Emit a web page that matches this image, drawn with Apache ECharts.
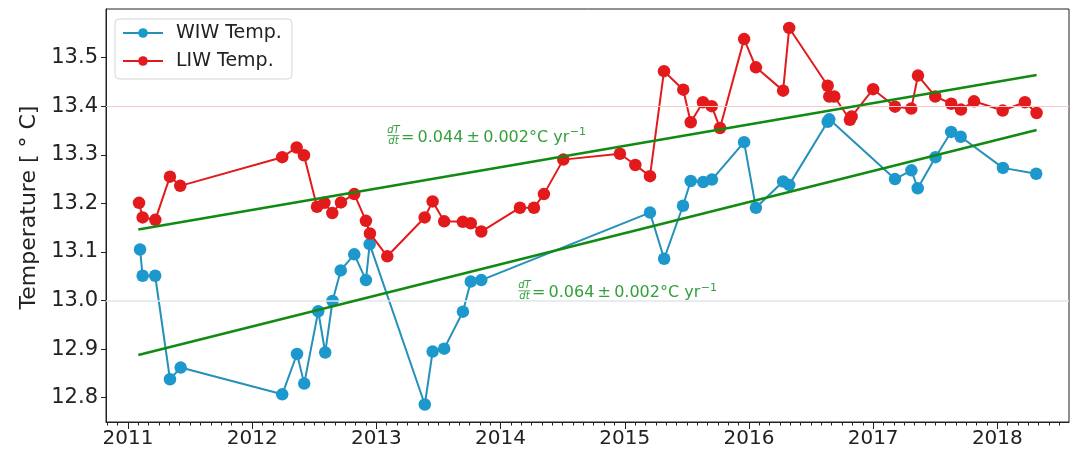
<!DOCTYPE html>
<html>
<head>
<meta charset="utf-8">
<title>WIW / LIW temperature</title>
<script src="https://cdn.jsdelivr.net/npm/echarts@6/dist/echarts.min.js"></script>
<style>
  html, body { margin: 0; padding: 0; background: #fff; }
  #chart { width: 1074px; height: 454px; }
</style>
</head>
<body>
<div id="chart"></div>
<script>
// Sampling dates (decimal years) and temperatures, Winter Intermediate Water
const wiwYears = [2011.097, 2011.118, 2011.219, 2011.338, 2011.424, 2012.242, 2012.361, 2012.419,
  2012.532, 2012.588, 2012.647, 2012.713, 2012.822, 2012.916, 2012.946, 2013.390, 2013.453,
  2013.546, 2013.697, 2013.760, 2013.845, 2015.203, 2015.317, 2015.469, 2015.531, 2015.632,
  2015.702, 2015.961, 2016.056, 2016.275, 2016.324, 2016.634, 2016.647, 2017.176, 2017.308,
  2017.359, 2017.502, 2017.628, 2017.705, 2018.045, 2018.313];
const wiwTemp = [13.105, 13.051, 13.051, 12.838, 12.862, 12.807, 12.890, 12.829,
  12.978, 12.893, 12.999, 13.062, 13.095, 13.042, 13.116, 12.786, 12.895,
  12.901, 12.977, 13.039, 13.042, 13.181, 13.086, 13.195, 13.246, 13.244,
  13.249, 13.326, 13.191, 13.245, 13.238, 13.368, 13.373, 13.250, 13.268,
  13.231, 13.295, 13.347, 13.337, 13.273, 13.261];

// Levantine Intermediate Water
const liwYears = [2011.089, 2011.118, 2011.220, 2011.338, 2011.421, 2012.242, 2012.358, 2012.417,
  2012.522, 2012.582, 2012.645, 2012.715, 2012.822, 2012.916, 2012.948, 2013.088, 2013.389,
  2013.453, 2013.546, 2013.696, 2013.760, 2013.845, 2014.156, 2014.269, 2014.349, 2014.505,
  2014.961, 2015.085, 2015.203, 2015.316, 2015.471, 2015.531, 2015.630, 2015.700, 2015.767,
  2015.961, 2016.056, 2016.275, 2016.324, 2016.634, 2016.647, 2016.687, 2016.813, 2016.827,
  2017.000, 2017.176, 2017.307, 2017.361, 2017.500, 2017.629, 2017.707, 2017.812, 2018.043,
  2018.222, 2018.316];
const liwTemp = [13.201, 13.171, 13.166, 13.255, 13.236, 13.295, 13.315, 13.299,
  13.193, 13.201, 13.180, 13.202, 13.219, 13.164, 13.138, 13.091, 13.171,
  13.204, 13.163, 13.162, 13.159, 13.142, 13.191, 13.191, 13.219, 13.290,
  13.302, 13.279, 13.256, 13.472, 13.434, 13.367, 13.408, 13.400, 13.355,
  13.538, 13.480, 13.432, 13.561, 13.442, 13.420, 13.420, 13.372, 13.379,
  13.435, 13.399, 13.395, 13.463, 13.420, 13.405, 13.393, 13.410, 13.391,
  13.408, 13.386];

// Linear trends: span, value at start, slope (degC per year) and uncertainty
const trendSpan = [2011.083, 2018.316];
const liwTrendStart = 13.146;
const liwSlope = 0.044;
const wiwTrendStart = 12.888;
const wiwSlope = 0.064;
const slopeError = 0.002;

// Reference levels
const refLevels = [13.4, 13.0];

// Tick labels
const xTickYears = [2011, 2012, 2013, 2014, 2015, 2016, 2017, 2018];
const yTickValues = [12.8, 12.9, 13.0, 13.1, 13.2, 13.3, 13.4, 13.5];

const X_MIN = 2010.823, X_MAX = 2018.577;
const Y_MIN = 12.75, Y_MAX = 13.6;

const FONT = '"DejaVu Sans", "Liberation Sans", sans-serif';
const INK = '#222';
const BLUE = '#1c98cc';
const BLUE_LINE = '#2590ba';
const RED = '#e31a1c';
const GREEN = '#118a11';
const GREEN_TEXT = '#34a03c';

// monthly minor ticks
const monthTicks = [];
for (let k = Math.ceil(X_MIN * 12); k <= Math.floor(X_MAX * 12); k++) {
  monthTicks.push(k / 12);
}

const zip = (xs, ys) => xs.map((x, i) => [x, ys[i]]);
const trendLine = (start, slope) =>
  trendSpan.map(x => [x, start + slope * (x - trendSpan[0])]);

const chart = echarts.init(document.getElementById('chart'), null, { renderer: 'canvas' });

const option = {
  animation: false,
  grid: {
    left: 106, right: 5, top: 9, bottom: 32,
    show: true, borderColor: INK, borderWidth: 1, backgroundColor: 'transparent'
  },
  legend: {
    data: ['WIW Temp.', 'LIW Temp.'],
    orient: 'vertical',
    left: 115, top: 19,
    itemWidth: 40, itemHeight: 12, itemGap: 8,
    padding: [4, 10, 8, 7],
    borderColor: '#d6d6d6', borderWidth: 1, borderRadius: 4,
    backgroundColor: 'rgba(255,255,255,0.85)',
    textStyle: { fontFamily: FONT, fontSize: 19, lineHeight: 20, color: INK, padding: [0, 0, 0, 8] }
  },
  xAxis: [
    {
      type: 'value', min: X_MIN, max: X_MAX,
      axisLine: { show: true, lineStyle: { color: INK, width: 1 } },
      axisTick: { show: true, customValues: xTickYears, length: 7, lineStyle: { color: INK } },
      axisLabel: {
        customValues: xTickYears, fontFamily: FONT, fontSize: 20, color: INK, margin: 7,
        formatter: v => String(Math.round(v))
      },
      splitLine: { show: false }
    },
    {
      type: 'value', min: X_MIN, max: X_MAX, position: 'bottom',
      axisLine: { show: false },
      axisTick: { show: true, customValues: monthTicks, length: 3.5, lineStyle: { color: INK } },
      axisLabel: { show: false },
      splitLine: { show: false }
    }
  ],
  yAxis: {
    type: 'value', min: Y_MIN, max: Y_MAX,
    name: 'Temperature [ ° C]',
    nameLocation: 'middle', nameGap: 65,
    nameTextStyle: { fontFamily: FONT, fontSize: 22, color: INK, padding: [0, 0, 0, 16] },
    axisLine: { show: true, lineStyle: { color: INK, width: 1 } },
    axisTick: { show: true, customValues: yTickValues, length: 5, lineStyle: { color: INK } },
    axisLabel: {
      customValues: yTickValues, fontFamily: FONT, fontSize: 21, color: INK, margin: 8,
      formatter: v => v.toFixed(1)
    },
    splitLine: { show: false }
  },
  series: [
    {
      name: 'reference', type: 'line', data: [], z: 1, silent: true,
      markLine: {
        silent: true, symbol: 'none', label: { show: false },
        data: [
          { yAxis: refLevels[0], lineStyle: { color: '#f6c9c9', width: 1, type: 'solid' } },
          { yAxis: refLevels[1], lineStyle: { color: '#dfe6ec', width: 1.5, type: 'solid' } }
        ]
      }
    },
    {
      name: 'WIW Temp.', type: 'line', data: zip(wiwYears, wiwTemp), z: 3,
      symbol: 'circle', symbolSize: 12.5, showAllSymbol: true,
      itemStyle: { color: BLUE },
      lineStyle: { color: BLUE_LINE, width: 2 }
    },
    {
      name: 'LIW Temp.', type: 'line', data: zip(liwYears, liwTemp), z: 4,
      symbol: 'circle', symbolSize: 12.5, showAllSymbol: true,
      itemStyle: { color: RED },
      lineStyle: { color: RED, width: 2 }
    },
    {
      name: 'LIW trend', type: 'line', data: trendLine(liwTrendStart, liwSlope), z: 5,
      symbol: 'none', silent: true, lineStyle: { color: GREEN, width: 2.5 }
    },
    {
      name: 'WIW trend', type: 'line', data: trendLine(wiwTrendStart, wiwSlope), z: 5,
      symbol: 'none', silent: true, lineStyle: { color: GREEN, width: 2.5 }
    }
  ]
};

chart.setOption(option);

// dT/dt annotations placed in data coordinates
const measure = (() => {
  const ctx = document.createElement('canvas').getContext('2d');
  return (text, font) => { ctx.font = font; return ctx.measureText(text).width; };
})();

function slopeLabel(anchor, slope) {
  const [px, py] = chart.convertToPixel({ gridIndex: 0 }, anchor);
  const mainFont = '16px ' + FONT;
  const fracFont = 'italic 10px ' + FONT;
  const supFont = '11px ' + FONT;
  const main = '=\u2009' + slope.toFixed(3) + '\u2009±\u2009' + slopeError.toFixed(3) + '°C yr';
  const mainW = measure(main, mainFont);
  return {
    type: 'group', x: px, y: py, silent: true, z: 20,
    children: [
      { type: 'text', style: { text: 'dT', x: 6.5, y: -0.5, align: 'center', verticalAlign: 'bottom', font: fracFont, fill: GREEN_TEXT } },
      { type: 'line', shape: { x1: 0.5, y1: 0, x2: 12.5, y2: 0 }, style: { stroke: GREEN_TEXT, lineWidth: 0.8 } },
      { type: 'text', style: { text: 'dt', x: 6.5, y: 1, align: 'center', verticalAlign: 'top', font: fracFont, fill: GREEN_TEXT } },
      { type: 'text', style: { text: main, x: 14, y: 2, verticalAlign: 'middle', font: mainFont, fill: GREEN_TEXT } },
      { type: 'text', style: { text: '\u22121', x: 14 + mainW + 0.5, y: -3, verticalAlign: 'middle', font: supFont, fill: GREEN_TEXT } }
    ]
  };
}

const liwLabelAnchor = [2013.085, 13.3396];
const wiwLabelAnchor = [2014.140, 13.020];

chart.setOption({
  graphic: [slopeLabel(liwLabelAnchor, liwSlope), slopeLabel(wiwLabelAnchor, wiwSlope)]
});
</script>
</body>
</html>
